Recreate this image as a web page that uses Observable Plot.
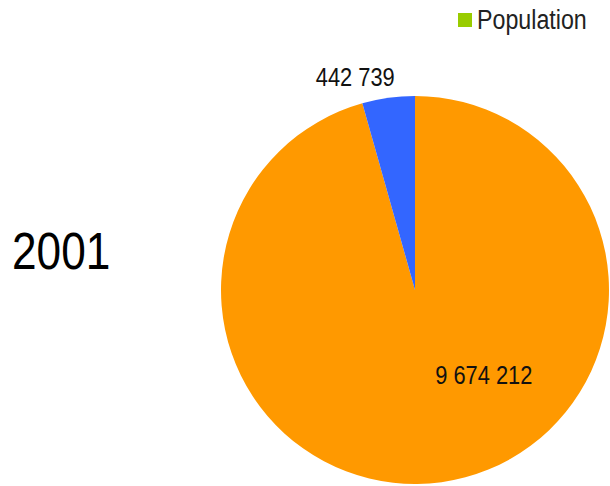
<!DOCTYPE html>
<html><head><meta charset="utf-8">
<script src="https://cdn.jsdelivr.net/npm/d3@7"></script>
<script src="https://cdn.jsdelivr.net/npm/@observablehq/plot@0.6"></script>
<style>
body{margin:0;background:#fff}
#wrap{position:relative;width:610px;height:486px;font-family:"Liberation Sans",Arial,sans-serif;color:#000}
#title{position:absolute;left:12px;top:225px;font-size:52px;line-height:52px;white-space:nowrap;transform:scaleX(0.85);transform-origin:0 0}
#legend{position:absolute;left:458px;top:7px;font-size:27px;line-height:27px;white-space:nowrap;color:#222}
#legend .sw{position:absolute;left:0;top:6px;width:14px;height:14px}
#legend .lb{position:absolute;left:19px;top:0;transform:scaleX(0.86);transform-origin:0 0}
</style>
</head><body>
<div id="wrap"></div>
<script>
const yearTitle = "2001";
const seriesName = "Population";
const sliceNames = ["Group 1", "Group 2"];
const sliceValues = [9674212, 442739];
const sliceColors = ["#ff9900", "#3366ff"];
const legendColor = "#99cc00";

const fmt = d3.formatLocale({thousands: " ", grouping: [3], decimal: ",", currency: ["", ""]}).format(",d");

const data = sliceNames.map((name, i) => ({name, value: sliceValues[i], color: sliceColors[i]}));
const arcs = d3.pie().sort(null).value(d => d.value)(data);

const labelRadius = [0.5, 1.1];
const labels = arcs.map((a, i) => {
  const m = (a.startAngle + a.endAngle) / 2;
  const k = labelRadius[i];
  return {x: k * Math.sin(m), y: k * Math.cos(m), text: fmt(a.data.value), i};
});

const pieMark = (index, scales) => {
  const cx = scales.x(0), cy = scales.y(0);
  const r = scales.x(1) - cx;
  const arc = d3.arc().innerRadius(0).outerRadius(r);
  const g = d3.create("svg:g").attr("transform", `translate(${cx},${cy})`);
  g.selectAll("path").data(arcs).join("path")
    .attr("d", arc).attr("fill", d => d.data.color);
  return g.node();
};

const font = '"Liberation Sans",Arial,sans-serif';

const chart = Plot.plot({
  width: 610,
  height: 486,
  margin: 0,
  style: {background: "transparent", fontFamily: font},
  x: {domain: [-1, 1], range: [221, 609], axis: null},
  y: {domain: [-1, 1], range: [484, 96], axis: null},
  marks: [
    pieMark,
    Plot.text(labels.filter(d => d.i === 0), {x: "x", y: "y", text: "text", dx: 55, dy: -11, fontSize: 26, fill: "#111"}),
    Plot.text(labels.filter(d => d.i === 1), {x: "x", y: "y", text: "text", dx: -31, dy: -1, fontSize: 26, fill: "#111"})
  ]
});

const wrap = document.getElementById("wrap");
wrap.appendChild(chart);

// emulate the narrow typeface of the original by compressing label text horizontally
chart.querySelectorAll("text").forEach(t => {
  const w = t.getComputedTextLength();
  if (w > 0) {
    t.setAttribute("textLength", (w * 0.84).toFixed(1));
    t.setAttribute("lengthAdjust", "spacingAndGlyphs");
  }
});

const t = document.createElement("div"); t.id = "title"; t.textContent = yearTitle; wrap.appendChild(t);
const lg = document.createElement("div"); lg.id = "legend";
lg.innerHTML = `<span class="sw" style="background:${legendColor}"></span><span class="lb"></span>`;
lg.querySelector(".lb").textContent = seriesName;
wrap.appendChild(lg);
</script>
</body></html>
